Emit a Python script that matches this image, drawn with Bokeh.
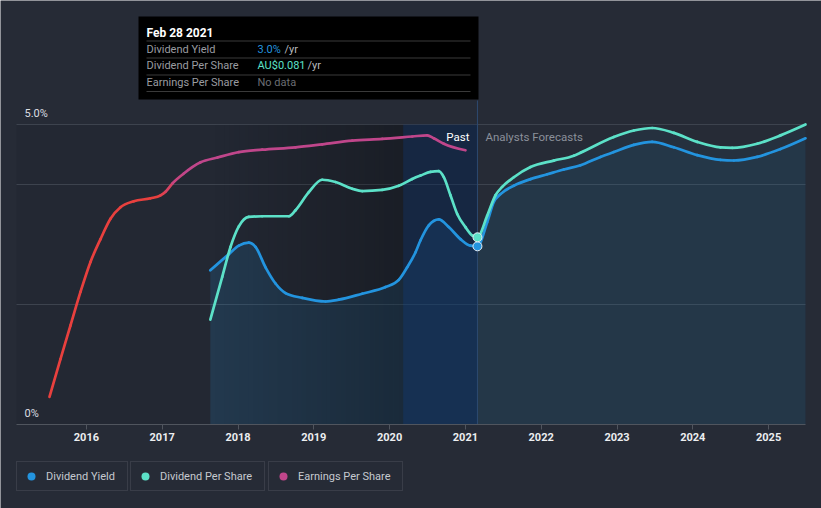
import numpy as np
from bokeh.plotting import figure
from bokeh.models import Range1d, FixedTicker, Legend, LegendItem, Label
from bokeh.embed import file_html
from bokeh.resources import INLINE

# ---------------- data ----------------
YIELD_DATES = [2017.635, 2017.879, 2018.011, 2018.142, 2018.231, 2018.363, 2018.495, 2018.627,
               2018.847, 2019.154, 2019.330, 2019.639, 2019.946, 2020.121, 2020.232, 2020.342,
               2020.408, 2020.517, 2020.649, 2020.781, 2020.935, 2021.067, 2021.159,
               2021.287, 2021.375, 2021.463, 2021.639, 2021.859, 2022.079, 2022.298, 2022.518,
               2022.782, 2022.958, 2023.222, 2023.464, 2023.749, 2024.058, 2024.365, 2024.541,
               2024.850, 2025.157, 2025.487]
YIELD_PCT = [2.57, 2.84, 2.98, 3.03, 2.96, 2.62, 2.35, 2.19,
             2.11, 2.05, 2.08, 2.18, 2.29, 2.41, 2.62, 2.87,
             3.07, 3.32, 3.42, 3.29, 3.09, 2.98, 2.97,
             3.37, 3.71, 3.84, 3.98, 4.09, 4.17, 4.25, 4.32,
             4.46, 4.54, 4.66, 4.71, 4.62, 4.49, 4.41, 4.40,
             4.46, 4.59, 4.77]

DPS_DATES = [2017.635, 2017.792, 2017.901, 2018.011, 2018.142, 2018.319, 2018.670, 2018.759,
             2018.934, 2019.111, 2019.286, 2019.507, 2019.639, 2019.902, 2020.121, 2020.298,
             2020.408, 2020.540, 2020.649, 2020.715, 2020.803, 2020.892, 2021.001, 2021.090,
             2021.159,
             2021.287, 2021.397, 2021.485, 2021.639, 2021.859, 2022.166, 2022.430, 2022.518,
             2022.958, 2023.222, 2023.464, 2023.749, 2024.058, 2024.365, 2024.520, 2024.850,
             2025.157, 2025.487]
DPS_AUD = [0.0454, 0.0639, 0.0768, 0.0857, 0.0898, 0.0901, 0.0901, 0.0927,
           0.1005, 0.1059, 0.1049, 0.1020, 0.1010, 0.1015, 0.1033, 0.1062,
           0.1077, 0.1093, 0.1096, 0.1070, 0.0992, 0.0911, 0.0854, 0.0818,
           0.0810,
           0.0903, 0.0992, 0.1028, 0.1070, 0.1114, 0.1142, 0.1163, 0.1176,
           0.1244, 0.1272, 0.1283, 0.1262, 0.1223, 0.1199, 0.1197, 0.1215,
           0.1251, 0.1298]

EPS_DATES = [2015.513, 2015.658, 2015.790, 2015.922, 2016.054, 2016.186, 2016.318, 2016.450,
             2016.625, 2016.846, 2016.978, 2017.044, 2017.136, 2017.281, 2017.506, 2017.730,
             2018.011, 2018.319, 2018.759, 2019.111, 2019.507, 2019.902, 2020.298, 2020.496,
             2020.583, 2020.715, 2021.001]
EPS_INDEX = [0.46, 1.09, 1.65, 2.21, 2.71, 3.09, 3.43, 3.62,
             3.72, 3.77, 3.82, 3.88, 4.02, 4.18, 4.37, 4.45,
             4.54, 4.58, 4.62, 4.67, 4.73, 4.76, 4.80, 4.82,
             4.77, 4.68, 4.57]

YEAR_TICKS = [2016, 2017, 2018, 2019, 2020, 2021, 2022, 2023, 2024, 2025]
YEAR_LABELS = ["2016", "2017", "2018", "2019", "2020", "2021", "2022", "2023", "2024", "2025"]
GRID_PCT = [2.0, 4.0, 5.0]
Y_LABEL_VALUES = [5.0, 0.0]
Y_LABELS = ["5.0%", "0%"]

TODAY = 2021.159
TIP_DATE = "Feb 28 2021"
TIP_ROWS = ["Dividend Yield", "Dividend Per Share", "Earnings Per Share"]
TIP_VALUES = ["3.0%", "AU$0.081", "No data"]
SERIES_NAMES = ["Dividend Yield", "Dividend Per Share", "Earnings Per Share"]

# ---------------- layout / style ----------------
BG = "#262b36"
PLOT_BG = "#232833"
BLUE = "#2394df"
TEAL = "#5ce1c8"
RED = "#e8403e"
MAGENTA = "#c0468b"
GRID = "#3d434e"
LW = 2.7

PX_PER_YEAR = 75.8
X2016_PX = 85.9
CHART_L, CHART_R = 16, 805        # page px of the chart area
ZERO_PX = 424
PX_PER_PCT = 60.0
W, H = 821, 508


def px2x(px):
    return 2016 + (px - X2016_PX) / PX_PER_YEAR


def py2y(py):
    return (ZERO_PX - py) / PX_PER_PCT


X_START, X_END = px2x(0), px2x(W)
Y_TOP, Y_BOT = py2y(0), py2y(H)
X_L, X_R = px2x(CHART_L), px2x(CHART_R)
DPS_PER_UNIT = 0.081 / 3.12   # dividend-per-share axis scale relative to yield axis


def monotone_bezier(x, y):
    """Control points of a monotone cubic curve through the given points."""
    x = np.asarray(x, float)
    y = np.asarray(y, float)
    h = np.diff(x)
    d = np.diff(y) / h
    n = len(x)
    m = np.zeros(n)
    for i in range(1, n - 1):
        s = (h[i - 1] * d[i] + h[i] * d[i - 1]) / (h[i - 1] + h[i])
        m[i] = (np.sign(d[i - 1]) + np.sign(d[i])) * min(abs(d[i - 1]), abs(d[i]), 0.5 * abs(s))
    m[0] = (3 * d[0] - m[1]) / 2
    m[-1] = (3 * d[-1] - m[-2]) / 2
    return dict(x0=x[:-1], y0=y[:-1], x1=x[1:], y1=y[1:],
                cx0=x[:-1] + h / 3, cy0=y[:-1] + m[:-1] * h / 3,
                cx1=x[1:] - h / 3, cy1=y[1:] - m[1:] * h / 3)


p = figure(width=W, height=H, output_backend="svg", toolbar_location=None,
           x_range=Range1d(X_START, X_END), y_range=Range1d(Y_BOT, Y_TOP), min_border=0)
p.extra_y_ranges = {"dps": Range1d(Y_BOT * DPS_PER_UNIT, Y_TOP * DPS_PER_UNIT)}
p.background_fill_color = BG
p.border_fill_color = BG
p.outline_line_color = None

# axes & grid
p.yaxis.visible = False
p.xgrid.visible = False
p.ygrid.visible = False
p.segment(x0=X_L, x1=X_R, y0=GRID_PCT, y1=GRID_PCT, line_color=GRID, line_width=1,
          level="underlay")
xa = p.xaxis[0]
xa.fixed_location = 0
xa.bounds = (X_L, X_R)
xa.ticker = FixedTicker(ticks=YEAR_TICKS)
xa.major_label_overrides = {t: l for t, l in zip(YEAR_TICKS, YEAR_LABELS)}
xa.axis_line_color = "#50555e"
xa.major_tick_line_color = "#50555e"
xa.major_tick_in = 0
xa.major_tick_out = 5
xa.minor_tick_line_color = None
xa.major_label_standoff = 3
xa.major_label_text_color = "#eceef0"
xa.major_label_text_font = "Roboto"
xa.major_label_text_font_size = "11px"
xa.major_label_text_font_style = "bold"

yd = np.array(YIELD_DATES)
yv = np.array(YIELD_PCT)
dd = np.array(DPS_DATES)
dv = np.array(DPS_AUD)
ed = np.array(EPS_DATES)
ev = np.array(EPS_INDEX)

# past region base background
p.quad(left=[X_L], right=[TODAY], bottom=[0], top=[5.0], fill_color=PLOT_BG,
       line_color=None, level="image")

# fills
past = yd <= TODAY + 1e-9
fut = yd >= TODAY - 1e-9
dfut = dd >= TODAY - 1e-9
p.varea(x=yd[past], y1=0, y2=yv[past], fill_color=BLUE, fill_alpha=0.16)
p.varea(x=dd[dfut], y1=0, y2=dv[dfut], fill_color=BLUE, fill_alpha=0.06, y_range_name="dps")
p.varea(x=yd[fut], y1=0, y2=yv[fut], fill_color=BLUE, fill_alpha=0.06)

# darkening gradient over the past
band_start = TODAY - 0.98
n = 40
edges = np.linspace(YIELD_DATES[0], band_start, n + 1)
alphas = np.linspace(0.0, 0.25, n)
p.quad(left=edges[:-1], right=edges[1:], bottom=0, top=5.0, fill_color="#000000",
       fill_alpha=alphas, line_color=None)
p.quad(left=[band_start], right=[TODAY], bottom=[0], top=[5.0], fill_color="#000000",
       fill_alpha=0.25, line_color=None)
# last-year highlight band
p.quad(left=[band_start], right=[TODAY], bottom=[0], top=[5.0], fill_color="#0848a8",
       fill_alpha=0.22, line_color=None)
# past / forecast divider
p.segment(x0=[TODAY], x1=[TODAY], y0=[0], y1=[py2y(100)], line_color="#2d4a70", line_width=1)


def mix(c1, c2, t):
    a = [int(c1[i:i + 2], 16) for i in (1, 3, 5)]
    b = [int(c2[i:i + 2], 16) for i in (1, 3, 5)]
    return "#%02x%02x%02x" % tuple(int(round(a[k] + (b[k] - a[k]) * t)) for k in range(3))


# EPS line (red -> magenta)
eb = monotone_bezier(ed, ev)
mids = (ed[:-1] + ed[1:]) / 2
cols = [mix(RED, MAGENTA, float(np.clip((m - 2016.95) / 0.3, 0, 1))) for m in mids]
p.bezier(line_color=cols, line_width=LW, line_cap="round", **eb)

# yield and DPS lines
p.bezier(line_color=BLUE, line_width=LW, line_cap="round", **monotone_bezier(yd, yv))
p.bezier(line_color=TEAL, line_width=LW, line_cap="round", y_range_name="dps",
         **monotone_bezier(dd, dv))

# markers at the tooltip date
ti = int(np.argmin(np.abs(yd - TODAY)))
di = int(np.argmin(np.abs(dd - TODAY)))
p.scatter([yd[ti]], [yv[ti]], marker="circle", size=9, fill_color=BLUE, line_color="#e8eef5",
          line_width=1)
p.scatter([dd[di]], [dv[di]], marker="circle", size=9, fill_color=TEAL, line_color="#e8eef5",
          line_width=1, y_range_name="dps")

# y labels
for v, t in zip(Y_LABEL_VALUES, Y_LABELS):
    p.add_layout(Label(x=px2x(24), y=v, text=t, text_color="#dcdee2", text_font="Roboto",
                       text_font_size="11px", text_baseline="bottom", y_offset=5))

# Past / Analysts Forecasts
p.add_layout(Label(x=TODAY, y=py2y(136), text="Past", text_color="#ffffff", text_font="Roboto",
                   text_font_size="11.5px", text_align="right", text_baseline="middle",
                   x_offset=-8))
p.add_layout(Label(x=TODAY, y=py2y(136), text="Analysts Forecasts", text_color="#8b909a",
                   text_font="Roboto", text_font_size="11.5px", text_align="left",
                   text_baseline="middle", x_offset=8))

# tooltip box
p.quad(left=[px2x(138)], right=[px2x(478)], bottom=[py2y(99)], top=[py2y(16)],
       fill_color="#000000", line_color=None, level="overlay")
sep_y = [py2y(y) for y in (40.5, 57.5, 74.5, 91)]
p.segment(x0=px2x(146), x1=px2x(470), y0=sep_y, y1=sep_y, line_color="#3a3a3a", line_width=1,
          level="overlay")
p.add_layout(Label(x=px2x(146), y=py2y(32), text=TIP_DATE, text_color="#ffffff",
                   text_font="Roboto", text_font_size="12px", text_font_style="bold",
                   text_baseline="middle", level="overlay"))
row_y = [48.5, 65, 82]
val_cols = [BLUE, TEAL, "#6b6e73"]
for i in range(3):
    p.add_layout(Label(x=px2x(146), y=py2y(row_y[i]), text=TIP_ROWS[i], text_color="#9a9ca0",
                       text_font="Roboto", text_font_size="11px", text_baseline="middle",
                       level="overlay"))
    p.add_layout(Label(x=px2x(257), y=py2y(row_y[i]), text=TIP_VALUES[i], text_color=val_cols[i],
                       text_font="Roboto", text_font_size="11px", text_baseline="middle",
                       level="overlay"))
for px_x, ry in ((284, row_y[0]), (307, row_y[1])):
    p.add_layout(Label(x=px2x(px_x), y=py2y(ry), text="/yr", text_color="#b8babe",
                       text_font="Roboto", text_font_size="11px", text_baseline="middle",
                       level="overlay"))

# legend (three separate boxed items under the axis)
dots = [p.scatter([X_START - 10], [Y_BOT - 10], marker="circle", size=8, fill_color=c,
                  line_color=None) for c in (BLUE, TEAL, MAGENTA)]
for name, r, x0, lw in zip(SERIES_NAMES, dots, (16, 130, 268), (77, 100, 100)):
    lg = Legend(items=[LegendItem(label=name, renderers=[r])], location=(x0, H - 491),
                orientation="horizontal", border_line_color="#4b505a", border_line_width=1,
                background_fill_color=BG, background_fill_alpha=1.0,
                label_text_color="#c5c9cf", label_text_font="Roboto",
                label_text_font_size="11px", glyph_width=20, glyph_height=20,
                label_standoff=5, padding=4, margin=0, spacing=0, label_height=15,
                label_width=lw)
    p.add_layout(lg)

open("out.html", "w").write(file_html(p, INLINE))
